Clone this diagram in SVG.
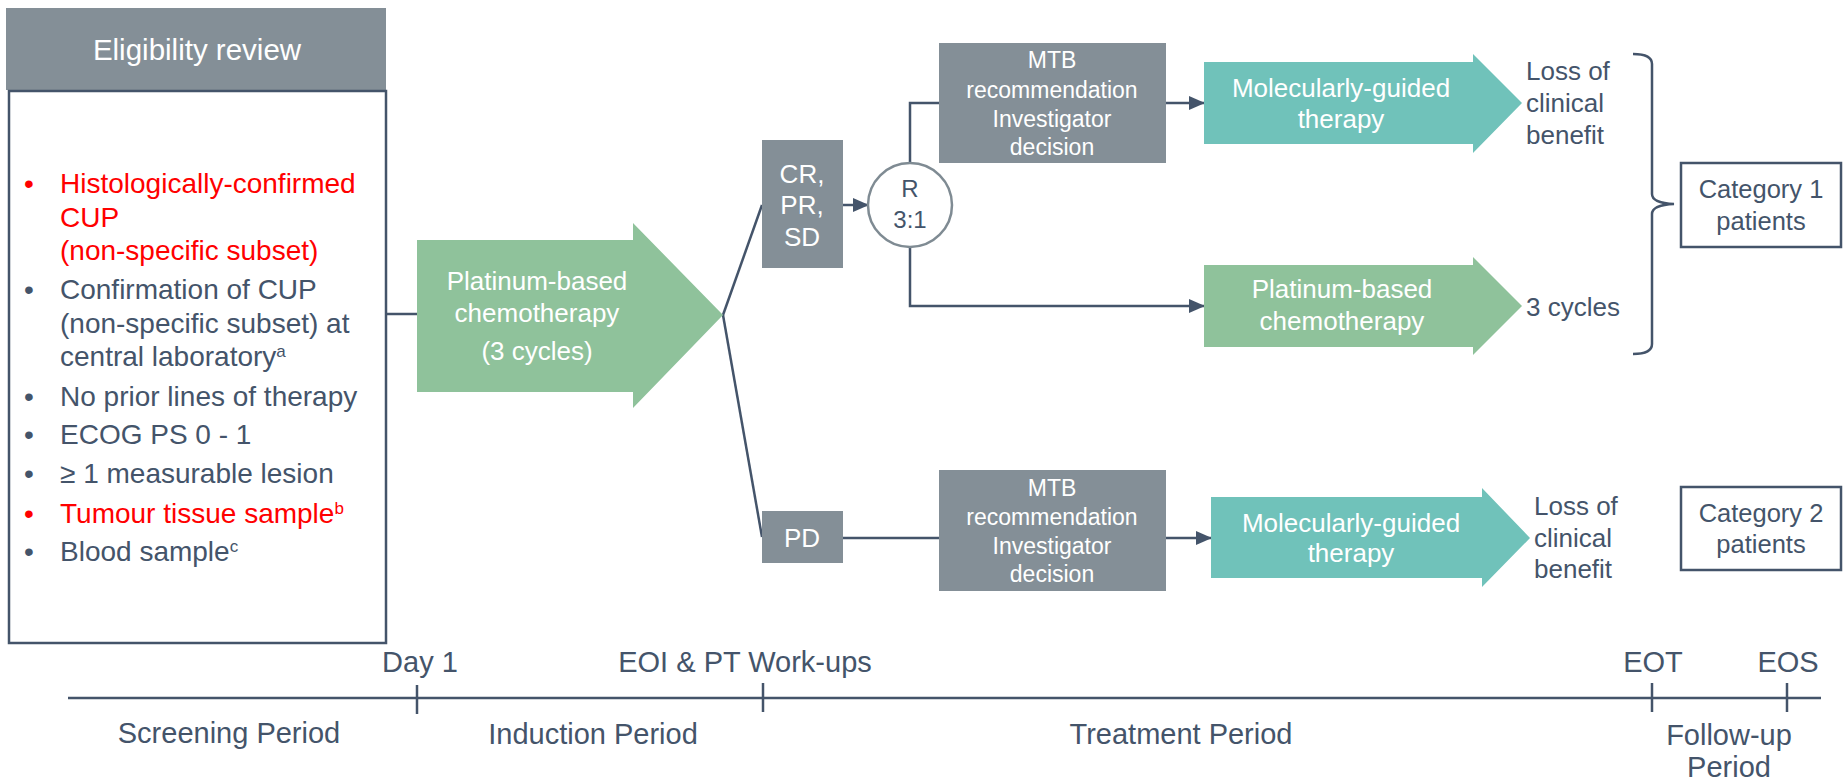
<svg xmlns="http://www.w3.org/2000/svg" width="1843" height="783" viewBox="0 0 1843 783">
<style>
text{font-family:"Liberation Sans",Arial,sans-serif;}
.dk{fill:#44546a;}
.wh{fill:#ffffff;}
.rd{fill:#ff0000;}
.gbox{fill:#848f97;}
.green{fill:#8fc29b;}
.teal{fill:#70c2ba;}
.ln{stroke:#44546a;stroke-width:2.5;fill:none;}
.c{text-anchor:middle;}
</style>
<defs>
<marker id="ah" markerUnits="userSpaceOnUse" markerWidth="16" markerHeight="16" viewBox="0 0 16 16" refX="15" refY="8" orient="auto">
<path d="M0,1 L16,8 L0,15 z" fill="#44546a"/>
</marker>
</defs>

<g id="eligibility">
<rect x="6" y="8" width="380" height="82" class="gbox"/>
<text x="197" y="60" class="wh c" font-size="29.5">Eligibility review</text>
<rect x="9" y="91" width="377" height="552" fill="#ffffff" stroke="#44546a" stroke-width="2.5"/>
<g font-size="28">
<text x="24" y="193" class="rd">•</text>
<text x="60" y="193" class="rd">Histologically-confirmed</text>
<text x="60" y="227" class="rd">CUP</text>
<text x="60" y="260" class="rd">(non-specific subset)</text>
<text x="24" y="299" class="dk">•</text>
<text x="60" y="299" class="dk">Confirmation of CUP</text>
<text x="60" y="333" class="dk">(non-specific subset) at</text>
<text x="60" y="366" class="dk">central laboratory<tspan font-size="17" dy="-9">a</tspan></text>
<text x="24" y="406" class="dk">•</text>
<text x="60" y="406" class="dk">No prior lines of therapy</text>
<text x="24" y="444" class="dk">•</text>
<text x="60" y="444" class="dk">ECOG PS 0 - 1</text>
<text x="24" y="483" class="dk">•</text>
<text x="60" y="483" class="dk">≥ 1 measurable lesion</text>
<text x="24" y="523" class="rd">•</text>
<text x="60" y="523" class="rd">Tumour tissue sample<tspan font-size="17" dy="-9">b</tspan></text>
<text x="24" y="561" class="dk">•</text>
<text x="60" y="561" class="dk">Blood sample<tspan font-size="17" dy="-9">c</tspan></text>
</g>
</g>

<g id="connectors">
<line x1="387" y1="314" x2="417" y2="314" class="ln"/>
<line x1="723" y1="315" x2="762" y2="205" class="ln"/>
<line x1="723" y1="315" x2="762" y2="537" class="ln"/>
<line x1="843" y1="205" x2="868" y2="205" class="ln" marker-end="url(#ah)"/>
<polyline points="910,163 910,103 939,103" class="ln"/>
<polyline points="910,247 910,306 1204,306" class="ln" marker-end="url(#ah)"/>
<line x1="1166" y1="103" x2="1204" y2="103" class="ln" marker-end="url(#ah)"/>
<line x1="843" y1="538" x2="939" y2="538" class="ln"/>
<line x1="1166" y1="538" x2="1211" y2="538" class="ln" marker-end="url(#ah)"/>
<path d="M1633,54 Q1652,54 1652,64 L1652,194 Q1652,203 1674,204 Q1652,205 1652,214 L1652,344 Q1652,354 1633,354" class="ln"/>
</g>

<g id="induction">
<polygon points="417,240 633,240 633,223 723,315 633,408 633,392 417,392" class="green"/>
<text x="537" y="290" class="wh c" font-size="26">Platinum-based</text>
<text x="537" y="322" class="wh c" font-size="26">chemotherapy</text>
<text x="537" y="360" class="wh c" font-size="26">(3 cycles)</text>
</g>

<g id="crprsd">
<rect x="762" y="140" width="81" height="128" class="gbox"/>
<text x="802" y="183" class="wh c" font-size="26">CR,</text>
<text x="802" y="214" class="wh c" font-size="26">PR,</text>
<text x="802" y="246" class="wh c" font-size="26">SD</text>
</g>

<g id="pd">
<rect x="762" y="511" width="81" height="52" class="gbox"/>
<text x="802" y="547" class="wh c" font-size="26">PD</text>
</g>

<g id="randomise">
<circle cx="910" cy="205" r="42" fill="#ffffff" stroke="#7f8b93" stroke-width="2.5"/>
<text x="910" y="197" class="dk c" font-size="24">R</text>
<text x="910" y="228" class="dk c" font-size="24">3:1</text>
</g>

<g id="mtb1">
<rect x="939" y="43" width="227" height="120" class="gbox"/>
<text x="1052" y="68" class="wh c" font-size="23">MTB</text>
<text x="1052" y="98" class="wh c" font-size="23">recommendation</text>
<text x="1052" y="127" class="wh c" font-size="23">Investigator</text>
<text x="1052" y="155" class="wh c" font-size="23">decision</text>
</g>

<g id="mgt1">
<polygon points="1204,62 1473,62 1473,54 1522,103 1473,153 1473,144 1204,144" class="teal"/>
<text x="1341" y="97" class="wh c" font-size="26">Molecularly-guided</text>
<text x="1341" y="128" class="wh c" font-size="26">therapy</text>
</g>

<g id="chemo2">
<polygon points="1204,265 1473,265 1473,257 1522,306 1473,355 1473,347 1204,347" class="green"/>
<text x="1342" y="298" class="wh c" font-size="26">Platinum-based</text>
<text x="1342" y="330" class="wh c" font-size="26">chemotherapy</text>
</g>

<g id="mtb2">
<rect x="939" y="470" width="227" height="121" class="gbox"/>
<text x="1052" y="496" class="wh c" font-size="23">MTB</text>
<text x="1052" y="525" class="wh c" font-size="23">recommendation</text>
<text x="1052" y="554" class="wh c" font-size="23">Investigator</text>
<text x="1052" y="582" class="wh c" font-size="23">decision</text>
</g>

<g id="mgt2">
<polygon points="1211,497 1482,497 1482,488 1530,538 1482,587 1482,578 1211,578" class="teal"/>
<text x="1351" y="532" class="wh c" font-size="26">Molecularly-guided</text>
<text x="1351" y="562" class="wh c" font-size="26">therapy</text>
</g>

<g id="outcomes" font-size="26">
<text x="1526" y="80" class="dk">Loss of</text>
<text x="1526" y="112" class="dk">clinical</text>
<text x="1526" y="144" class="dk">benefit</text>
<text x="1526" y="316" class="dk">3 cycles</text>
<text x="1534" y="515" class="dk">Loss of</text>
<text x="1534" y="547" class="dk">clinical</text>
<text x="1534" y="578" class="dk">benefit</text>
</g>

<g id="category1">
<rect x="1681" y="163" width="160" height="84" fill="#ffffff" stroke="#44546a" stroke-width="2.5"/>
<text x="1761" y="198" class="dk c" font-size="25.5">Category 1</text>
<text x="1761" y="230" class="dk c" font-size="25.5">patients</text>
</g>

<g id="category2">
<rect x="1681" y="487" width="160" height="83" fill="#ffffff" stroke="#44546a" stroke-width="2.5"/>
<text x="1761" y="522" class="dk c" font-size="25.5">Category 2</text>
<text x="1761" y="553" class="dk c" font-size="25.5">patients</text>
</g>

<g id="timeline">
<line x1="68" y1="698" x2="1821" y2="698" class="ln"/>
<line x1="417" y1="685" x2="417" y2="714" class="ln"/>
<line x1="763" y1="683" x2="763" y2="712" class="ln"/>
<line x1="1652" y1="683" x2="1652" y2="712" class="ln"/>
<line x1="1787" y1="683" x2="1787" y2="712" class="ln"/>
<g font-size="29" class="dk">
<text x="420" y="672" class="dk c">Day 1</text>
<text x="745" y="672" class="dk c">EOI &amp; PT Work-ups</text>
<text x="1653" y="672" class="dk c">EOT</text>
<text x="1788" y="672" class="dk c">EOS</text>
<text x="229" y="743" class="dk c">Screening Period</text>
<text x="593" y="744" class="dk c">Induction Period</text>
<text x="1181" y="744" class="dk c">Treatment Period</text>
<text x="1729" y="745" class="dk c">Follow-up</text>
<text x="1729" y="777" class="dk c">Period</text>
</g>
</g>
</svg>
